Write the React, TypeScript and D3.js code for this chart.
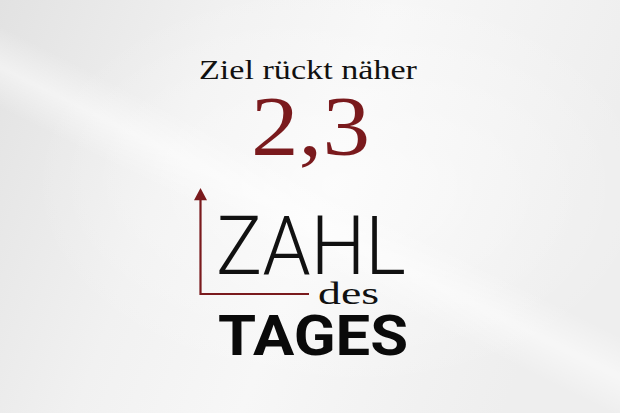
import React from 'react';
import * as d3 from 'd3';

// content of the card
const headline = 'Ziel rückt näher';
const figure = '2,3';
const brandWords = ['ZAHL', 'des', 'TAGES'];
// arrow corner: [x-axis end, y-axis top] in the arrow's own 0..1 domain
const arrowDomain = [0, 1];

const W = 620;
const H = 413;
const RED = '#7a1a1d';
const SERIF = "'Liberation Serif', 'Times New Roman', Times, serif";

export default function App() {
  // small linear scales for the corner arrow
  const ax = d3.scaleLinear().domain(arrowDomain).range([200.5, 309]);
  const ay = d3.scaleLinear().domain(arrowDomain).range([294, 188]);

  const axisPath = d3.line()([
    [ax(0), ay(0.9)],
    [ax(0), ay(0)],
    [ax(1), ay(0)],
  ]);
  const head = d3.line()([
    [ax(0) - 6.5, ay(0.885)],
    [ax(0) + 6.5, ay(0.885)],
    [ax(0), ay(1)],
  ]) + 'Z';

  return (
    <svg
      width={W}
      height={H}
      viewBox={`0 0 ${W} ${H}`}
      style={{ position: 'absolute', left: 0, top: 0, display: 'block' }}
    >
      <defs>
        <linearGradient id="bg" x1="0" y1="0" x2="1" y2="0.25">
          <stop offset="0" stopColor="#e2e2e2" />
          <stop offset="0.35" stopColor="#f1f1f1" />
          <stop offset="0.6" stopColor="#f7f7f7" />
          <stop offset="1" stopColor="#eeeeee" />
        </linearGradient>
        <linearGradient id="streak" x1="0.15" y1="0.9" x2="0.75" y2="0.1">
          <stop offset="0" stopColor="#ffffff" stopOpacity="0" />
          <stop offset="0.42" stopColor="#ffffff" stopOpacity="0" />
          <stop offset="0.5" stopColor="#ffffff" stopOpacity="0.5" />
          <stop offset="0.58" stopColor="#ffffff" stopOpacity="0" />
          <stop offset="1" stopColor="#ffffff" stopOpacity="0" />
        </linearGradient>
        <radialGradient id="glow" cx="0.55" cy="0.45" r="0.5">
          <stop offset="0" stopColor="#ffffff" stopOpacity="0.6" />
          <stop offset="1" stopColor="#ffffff" stopOpacity="0" />
        </radialGradient>
      </defs>
      <rect width={W} height={H} fill="url(#bg)" />
      <rect width={W} height={H} fill="url(#glow)" />
      <rect width={W} height={H} fill="url(#streak)" />

      <text
        x={199}
        y={79}
        textLength={218}
        lengthAdjust="spacingAndGlyphs"
        fontFamily={SERIF}
        fontSize={28}
        fill="#111"
      >
        {headline}
      </text>

      <text
        x={251}
        y={155}
        textLength={119}
        lengthAdjust="spacingAndGlyphs"
        fontFamily={SERIF}
        fontSize={84}
        fill={RED}
      >
        {figure}
      </text>

      <path d={axisPath ?? ''} fill="none" stroke={RED} strokeWidth={2.2} />
      <path d={head} fill={RED} />

      <text
        x={216}
        y={274}
        textLength={190}
        lengthAdjust="spacingAndGlyphs"
        fontFamily="Roboto, 'DejaVu Sans', sans-serif"
        fontWeight={300}
        fontSize={82}
        fill="#111"
      >
        {brandWords[0]}
      </text>

      <text
        x={318}
        y={304}
        textLength={61}
        lengthAdjust="spacingAndGlyphs"
        fontFamily={SERIF}
        fontSize={32}
        fill="#111"
      >
        {brandWords[1]}
      </text>

      <text
        x={218}
        y={355}
        textLength={190}
        lengthAdjust="spacingAndGlyphs"
        fontFamily="Roboto, 'DejaVu Sans', sans-serif"
        fontWeight={700}
        fontSize={56}
        fill="#0a0a0a"
      >
        {brandWords[2]}
      </text>
    </svg>
  );
}
